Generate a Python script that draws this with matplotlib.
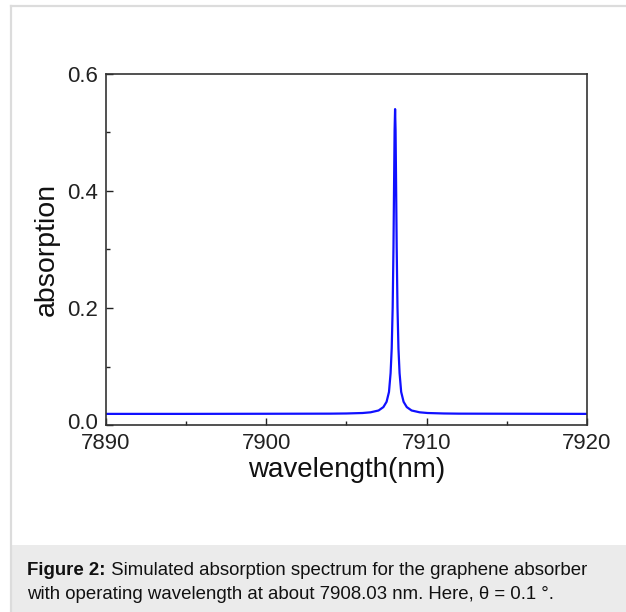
import matplotlib
matplotlib.use("Agg")
import matplotlib.pyplot as plt
import matplotlib.transforms as mtransforms
from matplotlib.ticker import MultipleLocator
from matplotlib.patches import Rectangle
from matplotlib.lines import Line2D

# wavelength (nm) and absorption values
wavelength = [7890.0, 7895.0, 7900.0, 7904.0, 7905.0, 7906.0, 7906.5, 7907.0,
              7907.3, 7907.5, 7907.65, 7907.75, 7907.82, 7907.88, 7907.93,
              7907.97, 7908.0, 7908.03, 7908.06, 7908.09, 7908.13, 7908.18,
              7908.24, 7908.31, 7908.41, 7908.56, 7908.76, 7909.06, 7909.56,
              7910.06, 7911.06, 7912.0, 7916.0, 7920.0]
absorption = [0.019, 0.019, 0.0192, 0.0194, 0.0197, 0.0205, 0.0217, 0.0248,
              0.0306, 0.0397, 0.0565, 0.0887, 0.131, 0.201, 0.304,
              0.420, 0.504, 0.540, 0.504, 0.420, 0.304, 0.201,
              0.131, 0.0887, 0.0565, 0.0397, 0.0306, 0.0248, 0.0217,
              0.0205, 0.0197, 0.0194, 0.0192, 0.019]

x_ticks = [7890, 7900, 7910, 7920]
y_ticks = [0.0, 0.2, 0.4, 0.6]
x_label = "wavelength(nm)"
y_label = "absorption"
caption_bold = "Figure 2:"
caption_line1 = " Simulated absorption spectrum for the graphene absorber"
caption_line2 = "with operating wavelength at about 7908.03 nm. Here, θ = 0.1 °."

plt.rcParams['font.family'] = ['Liberation Sans', 'DejaVu Sans']

W, H = 626, 612
fig = plt.figure(figsize=(W / 100, H / 100), dpi=100)
fig.patch.set_facecolor('white')

# page frame and caption box
fig.add_artist(Rectangle((12 / W, 0), 1 - 12 / W, 67 / H, transform=fig.transFigure,
                         facecolor='#ebebeb', edgecolor='none', zorder=0))
fig.add_artist(Line2D([11 / W, 11 / W], [0, 1 - 6 / H], transform=fig.transFigure,
                      color='#dcdcdc', lw=1.6))
fig.add_artist(Line2D([11 / W, 1], [1 - 6 / H, 1 - 6 / H], transform=fig.transFigure,
                      color='#dcdcdc', lw=1.6))

ax = fig.add_axes([106 / W, 187 / H, 481 / W, 351 / H])
ax.plot(wavelength, absorption, color='#1010ff', lw=1.6)
ax.set_xlim(7890, 7920)
ax.set_ylim(0, 0.6)
ax.set_xticks(x_ticks)
ax.set_yticks(y_ticks)
ax.set_xticklabels([str(v) for v in x_ticks])
ax.set_yticklabels([f"{v:.1f}" for v in y_ticks])
ax.xaxis.set_minor_locator(MultipleLocator(5))
ax.yaxis.set_minor_locator(MultipleLocator(0.1))
ax.tick_params(which='both', direction='in', top=False, right=False,
               labelsize=16, colors='#222222')
ax.tick_params(which='major', length=5, width=1.0)
ax.tick_params(which='minor', length=3, width=1.0)
ax.tick_params(axis='x', pad=6)
ax.tick_params(axis='y', pad=6)
for s in ax.spines.values():
    s.set_color('#333333')
    s.set_linewidth(1.2)
ax.set_xlabel(x_label, fontsize=20, labelpad=2, color='#111111')
ax.set_ylabel(y_label, fontsize=20.5, labelpad=5, color='#111111')

# nudge the "0.0" label slightly upward so it does not collide with "7890"
lbl0 = ax.get_yticklabels()[0]
lbl0.set_transform(lbl0.get_transform() +
                   mtransforms.ScaledTranslation(0, 3 / 72, fig.dpi_scale_trans))

cap_fs = 13.4
t = fig.text(27 / W, 1 - 575 / H, caption_bold, fontsize=cap_fs, fontweight='bold',
             va='baseline', ha='left', color='#111111')
fig.canvas.draw()
bb = t.get_window_extent()
fig.text(bb.x1 / W, 1 - 575 / H, caption_line1, fontsize=cap_fs,
         va='baseline', ha='left', color='#111111')
fig.text(27 / W, 1 - 599 / H, caption_line2, fontsize=cap_fs,
         va='baseline', ha='left', color='#111111')

fig.savefig('out.png', dpi=100)
